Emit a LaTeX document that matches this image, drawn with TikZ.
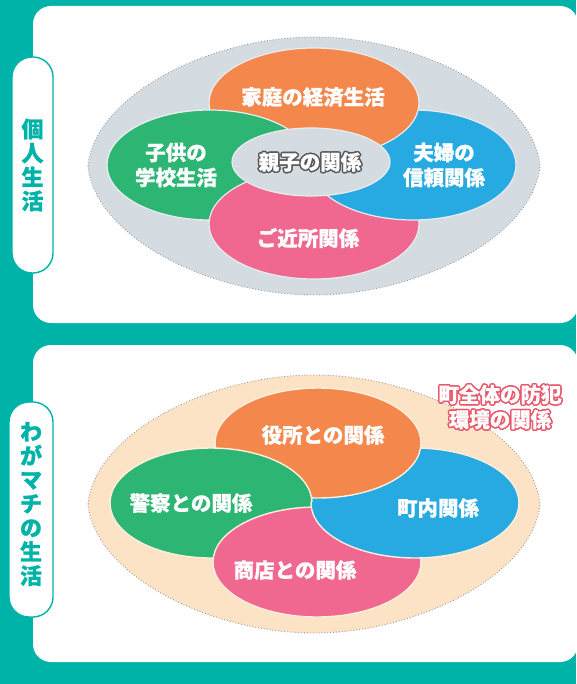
\documentclass[tikz,border=0pt]{standalone}
\usepackage{fontspec}
\newfontfamily\jp{Noto Sans CJK JP}[BoldFeatures={FakeBold=0.8}]
\usetikzlibrary{calc}
\definecolor{bgteal}{HTML}{00B3A9}
\definecolor{porange}{HTML}{F4874B}
\definecolor{pgreen}{HTML}{2DB573}
\definecolor{pblue}{HTML}{27AAE1}
\definecolor{ppink}{HTML}{F06790}
\definecolor{lensgray}{HTML}{D5DCE1}
\definecolor{lenscream}{HTML}{FCE3C6}
\definecolor{outlinegray}{HTML}{5A5A5A}
\definecolor{outlinered}{HTML}{E8576A}
\tikzset{
panel/.style={fill=white, rounded corners=18pt},
tab/.style={draw=bgteal, line width=1.4pt, fill=white, rounded corners=20pt},
tabtext/.style={text=bgteal, font=\jp\bfseries\fontsize{22}{24}\selectfont, align=center, inner sep=0pt},
lens/.style={draw=gray!80, dotted, line width=0.9pt},
label/.style={text=white, font=\jp\bfseries\fontsize{20.5}{25}\selectfont, align=center, inner sep=0pt},
}
% text with a drawn rim
\newcommand\rimtext[5]{%
\foreach \ang in {0,30,...,330}
  \node[label, text=#5] at ($#2+(\ang:1.5)$) {#3};
\node[label, text=#4] (#1) at #2 {#3};
}
% the lens shaped ground
\newcommand\lenspath{(88,166) .. controls (95,95) and (210,37) .. (314,37)
  .. controls (418,37) and (533,95) .. (540,166)
  .. controls (533,237) and (418,295) .. (314,295)
  .. controls (210,295) and (95,237) .. cycle}

\begin{document}
\begin{tikzpicture}[x=1pt,y=-1pt]
\fill[bgteal] (0,0) rectangle (576,684);
\useasboundingbox (0,0) rectangle (576,684);

% personal life
\fill[panel] (33,6) rectangle (578,323);
\draw[tab] (12,57) rectangle (53,273);
\node[tabtext] (tabA) at (32.5,165) {個\\人\\生\\活};

\filldraw[lens, fill=lensgray] \lenspath;
\begin{scope}[draw=white!45!lensgray, line width=1.2pt]
\filldraw[fill=pgreen] (210,165) ellipse (103 and 55);
\filldraw[fill=ppink] (314,224) ellipse (105 and 55);
\filldraw[fill=pblue] (413,165) ellipse (103 and 55);
\filldraw[fill=porange] (314,103) ellipse (105 and 55);
\begin{scope}
\clip (90,100) rectangle (320,165);
\filldraw[fill=pgreen] (210,165) ellipse (103 and 55);
\end{scope}
\filldraw[fill=lensgray] (311,162) ellipse (79 and 34);
\end{scope}

\node[label] (home) at (313,97) {家庭の経済生活};
\node[label] (school) at (176,165) {子供の\\学校生活};
\node[label] (couple) at (444,165) {夫婦の\\信頼関係};
\node[label] (nbr) at (308,238) {ご近所関係};
\rimtext{parent}{(310,162)}{親子の関係}{white}{outlinegray}

% town life
\fill[panel] (33,345) rectangle (578,662);
\draw[tab] (9,402) rectangle (53,617);
\node[tabtext] (tabB) at (31,504) {わ\\が\\マ\\チ\\の\\生\\活};

\begin{scope}[shift={(0,338)}]
\filldraw[lens, fill=lenscream] \lenspath;
\end{scope}
\begin{scope}[draw=white!40!lenscream, line width=1.4pt]
\filldraw[fill=pgreen] (211,503) ellipse (101 and 55);
\filldraw[fill=ppink] (317,562) ellipse (104 and 55);
\filldraw[fill=pblue] (415,503) ellipse (104 and 55);
\filldraw[fill=porange] (318,443) ellipse (103 and 55);
\begin{scope}
\clip (100,440) rectangle (316,501);
\filldraw[fill=pgreen] (211,503) ellipse (101 and 55);
\end{scope}
\end{scope}

\node[label] (office) at (323,435) {役所との関係};
\node[label] (police) at (191,503) {警察との関係};
\node[label] (block) at (438,508) {町内関係};
\node[label] (shops) at (295,570) {商店との関係};
\rimtext{safety}{(500,407)}{町全体の防犯\\環境の関係}{white}{outlinered}
\end{tikzpicture}
\end{document}
